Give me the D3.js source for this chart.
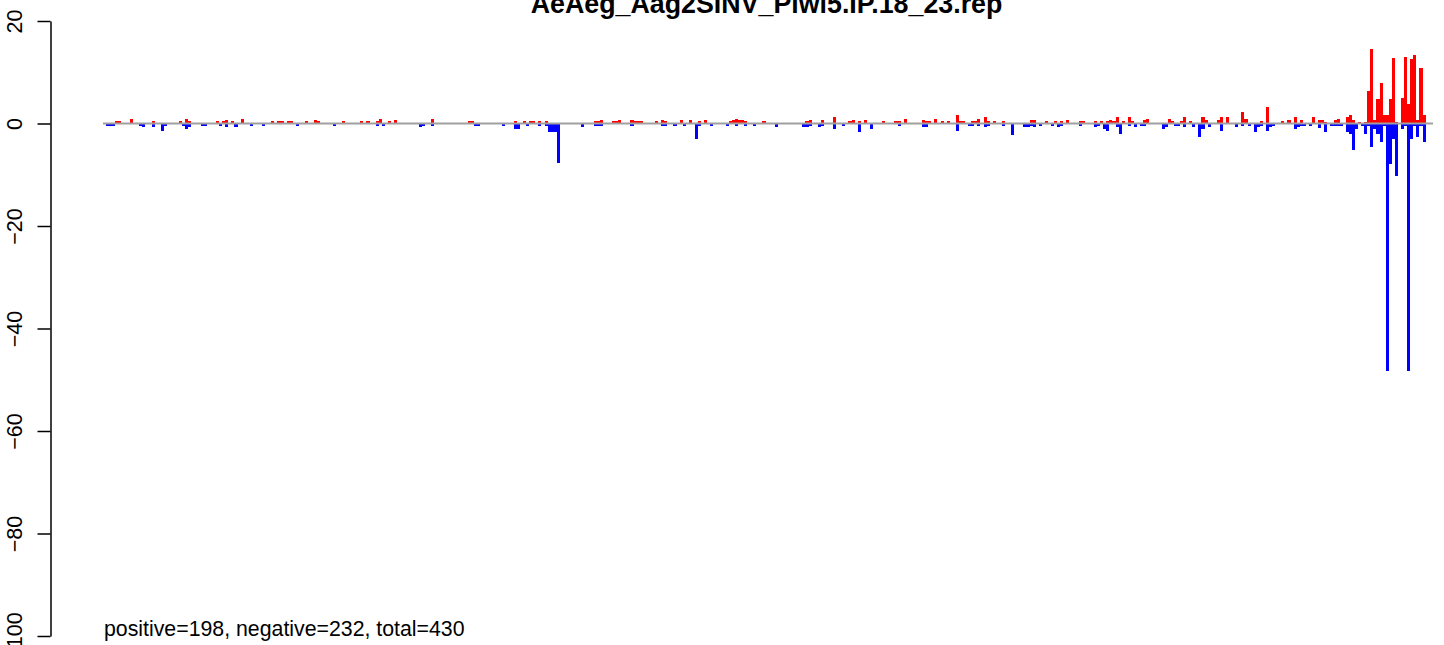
<!DOCTYPE html>
<html>
<head>
<meta charset="utf-8">
<script src="https://cdn.jsdelivr.net/npm/d3@7"></script>
<style>
  html, body { margin: 0; padding: 0; background: #ffffff; }
  svg { display: block; font-family: "Liberation Sans", Arial, Helvetica, sans-serif; }
</style>
</head>
<body>
<svg id="chart" width="1444" height="645"></svg>
<script>
// ---- data ----
const title = "AeAeg_Aag2SINV_Piwi5.IP.18_23.rep";
const summaryText = "positive=198, negative=232, total=430";
const nBars = 430;
const yTicks = [20, 0, -20, -40, -60, -80, -100];

// positive (red) bars: [bar index, value]
const positiveBars = [
  [3,0.4],[4,0.4],[8,0.8],[15,0.4],[24,0.4],[26,0.8],[27,0.4],[36,0.4],[38,0.4],[39,0.6],[41,0.4],[44,0.8],
  [54,0.4],[56,0.4],[57,0.4],[59,0.4],[60,0.4],[65,0.4],[68,0.7],[69,0.4],[77,0.4],
  [83,0.4],[85,0.4],[88,0.4],[89,0.8],[92,0.4],[94,0.7],[106,0.8],[118,0.4],[119,0.4],[133,0.4],[136,0.4],
  [138,0.4],[139,0.4],[141,0.4],[143,0.4],
  [159,0.4],[160,0.4],[161,0.7],[165,0.4],[166,0.4],[167,0.7],[171,0.7],[172,0.4],[173,0.4],[174,0.4],
  [179,0.4],[181,0.7],[182,0.4],[187,0.7],[190,0.7],[193,0.4],[195,0.7],[203,0.4],[204,0.7],[205,0.8],
  [206,0.7],[207,0.7],[208,0.4],[214,0.4],[228,0.4],[229,0.7],[233,0.7],
  [237,1.2],[242,0.4],[243,0.7],[245,0.4],[247,0.7],[253,0.4],[257,0.4],[258,0.4],[260,0.8],[266,0.7],
  [267,0.4],[268,0.4],[270,0.8],[272,0.4],[274,0.4],[277,1.6],[278,0.4],[279,0.4],[282,0.4],[283,0.4],
  [284,0.8],[286,1.2],[287,0.4],[289,0.4],[292,0.4],[301,0.7],[302,0.7],[306,0.4],[309,0.4],[311,0.4],[313,0.7],
  [317,0.4],[318,0.4],[322,0.4],[324,0.4],[326,0.4],[327,0.7],[328,0.4],[329,1.2],[331,0.4],[333,1.2],
  [334,0.4],[338,0.7],[339,0.8],[346,0.8],[347,0.4],[350,0.4],[351,1.2],[353,0.4],[357,1.2],[358,0.7],
  [362,0.7],[363,1.2],[365,1.2],[370,2.3],[371,0.8],[376,0.4],[378,3.3],[383,0.4],[385,0.7],[387,1.2],[389,0.7],
  [393,1.2],[395,0.6],[396,0.6],[397,0.2],[400,0.6],[401,0.8],[404,1.2],[405,1.75],[406,0.6],[408,0.2],
  [410,0.2],[411,6.4],[412,14.6],[413,0.6],[414,4.7],[415,8.0],[416,1.6],[417,1.6],[418,4.7],[419,12.7],
  [420,0.2],[422,4.9],[423,13.0],[424,3.9],[425,12.5],[426,13.4],[427,0.6],[428,10.9],[429,1.75]
];

// negative (blue) bars: [bar index, value]
const negativeBars = [
  [0,-0.5],[1,-0.5],[2,-0.5],[11,-0.4],[12,-0.7],[15,-0.7],[18,-1.5],[19,-0.4],[25,-0.4],[26,-1.1],[27,-0.7],
  [31,-0.4],[32,-0.4],[37,-0.4],[39,-0.7],[42,-0.7],[47,-0.4],[51,-0.4],[62,-0.4],[74,-0.4],
  [88,-0.5],[90,-0.5],[102,-0.7],[103,-0.4],[106,-0.4],[120,-0.4],[121,-0.4],[129,-0.4],[133,-1.1],[134,-1.1],
  [137,-0.5],[141,-0.5],[143,-0.5],[144,-1.7],[145,-1.7],[146,-1.7],[147,-7.8],[155,-0.7],
  [159,-0.4],[160,-0.4],[161,-0.4],[171,-0.4],[181,-0.4],[182,-0.4],[185,-0.4],[188,-0.4],[192,-3.1],[193,-0.4],
  [197,-0.4],[202,-0.4],[205,-0.4],[208,-0.4],[211,-0.4],[218,-0.7],[227,-0.7],[228,-0.7],[229,-0.4],[232,-0.7],[233,-0.4],
  [237,-1.1],[240,-0.4],[245,-1.7],[249,-1.1],[258,-0.5],[266,-0.7],[267,-0.7],[277,-1.5],[281,-0.4],[282,-0.4],
  [284,-0.4],[286,-0.7],[287,-0.4],[292,-0.4],[295,-2.3],[299,-0.7],[300,-0.7],[301,-0.4],[302,-0.7],[304,-0.4],
  [308,-0.4],[310,-0.7],[311,-0.4],
  [317,-0.4],[322,-0.7],[323,-0.4],[325,-1.1],[326,-1.5],[329,-0.7],[330,-2.1],[333,-0.4],[335,-0.7],[337,-0.4],
  [338,-0.4],[344,-1.1],[345,-0.7],[348,-0.4],[349,-0.4],[351,-0.7],[354,-0.7],[356,-2.7],[357,-1.1],[359,-0.7],
  [363,-1.5],[368,-0.7],[370,-0.4],[372,-0.4],[374,-1.7],[375,-0.7],[376,-0.4],[378,-1.5],[379,-0.7],[380,-0.4],
  [387,-1.1],[388,-0.7],[389,-0.4],[390,-0.4],
  [392,-0.4],[395,-0.8],[397,-1.75],[399,-0.4],[400,-0.4],[401,-0.4],[402,-0.4],[404,-1.75],[405,-2.1],[406,-5.2],
  [407,-1.1],[409,-0.4],[410,-2.1],[411,-0.4],[412,-4.6],[413,-1.1],[414,-2.1],[415,-3.6],[416,-0.4],[417,-48.2],
  [418,-7.9],[419,-3.1],[420,-10.3],[422,-1.1],[423,-0.4],[424,-48.2],[425,-3.1],[426,-0.4],[427,-2.7],[428,-0.4],[429,-3.6]
];

// ---- drawing ----
const svg = d3.select("#chart");
svg.append("rect").attr("width", 1444).attr("height", 645).attr("fill", "#fff");

const x = d3.scaleBand().domain(d3.range(nBars)).range([105.5, 1425.6]).padding(0);
const y = d3.scaleLinear().domain([-100, 20]).range([636, 21]);

const bars = svg.append("g").attr("shape-rendering", "crispEdges");
bars.selectAll("rect.pos").data(positiveBars).join("rect")
  .attr("class", "pos")
  .attr("x", d => x(d[0]))
  .attr("width", x.bandwidth())
  .attr("y", d => y(d[1]))
  .attr("height", d => y(0) - y(d[1]))
  .attr("fill", "#ff0000");
bars.selectAll("rect.neg").data(negativeBars).join("rect")
  .attr("class", "neg")
  .attr("x", d => x(d[0]))
  .attr("width", x.bandwidth())
  .attr("y", y(0))
  .attr("height", d => y(d[1]) - y(0))
  .attr("fill", "#0000ff");

// zero line
svg.append("line")
  .attr("x1", 103).attr("x2", 1433)
  .attr("y1", y(0)).attr("y2", y(0))
  .attr("stroke", "#a0a0a0").attr("stroke-width", 2);

// y axis
const axis = svg.append("g").attr("transform", "translate(50.5,0)")
  .call(d3.axisLeft(y).tickValues(yTicks).tickSize(13).tickSizeOuter(0).tickFormat(d3.format("d")));
axis.select(".domain").attr("stroke", "#000").attr("stroke-width", 1.5);
axis.selectAll(".tick line").attr("stroke", "#000").attr("stroke-width", 1.5);
axis.selectAll(".tick text")
  .attr("x", 0).attr("y", 0).attr("dy", 0)
  .attr("transform", "translate(-28.5,0) rotate(-90)")
  .attr("text-anchor", "middle")
  .attr("font-size", 21.5)
  .attr("font-family", "Liberation Sans, Arial, sans-serif")
  .attr("fill", "#000");

// title
svg.append("text")
  .attr("x", 766.5).attr("y", 12.5)
  .attr("text-anchor", "middle")
  .attr("font-size", 26.8).attr("font-weight", "bold")
  .text(title);

// summary text
svg.append("text")
  .attr("x", 104).attr("y", 636)
  .attr("font-size", 21.3)
  .text(summaryText);
</script>
</body>
</html>
